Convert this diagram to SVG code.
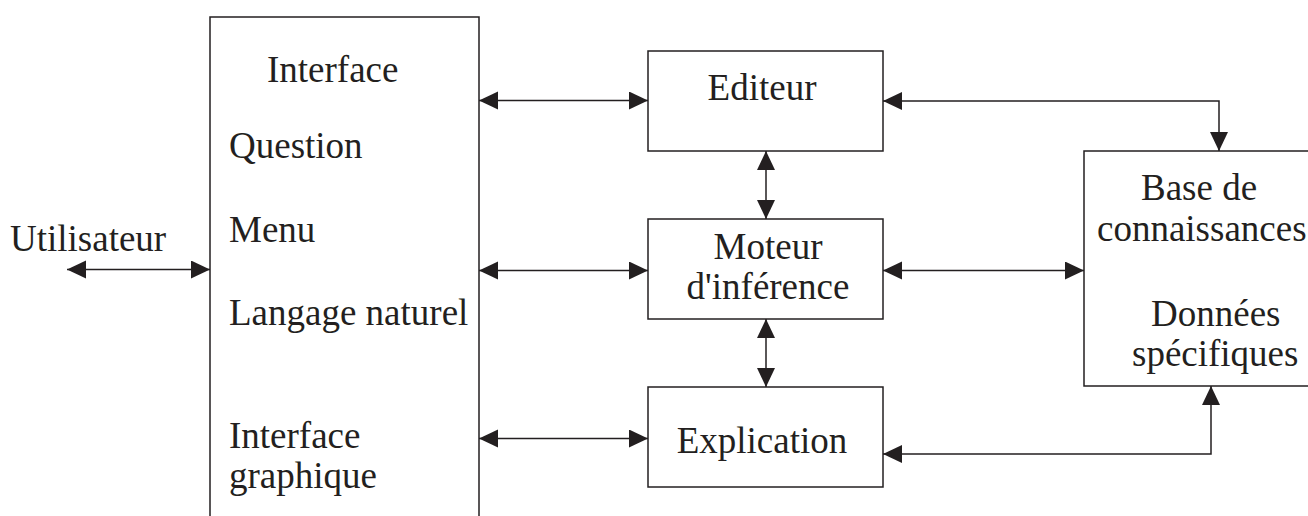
<svg xmlns="http://www.w3.org/2000/svg" width="1308" height="516" viewBox="0 0 1308 516">
<style>
.box{fill:none;stroke:#231f20;stroke-width:1.5}
.con{fill:none;stroke:#231f20;stroke-width:1.5;marker-start:url(#ah);marker-end:url(#ah)}
text{font-family:"Liberation Serif","Times New Roman",serif;font-size:37px;fill:#231f20}
.c{text-anchor:middle}
</style>
<defs>
<marker id="ah" markerUnits="userSpaceOnUse" markerWidth="20" markerHeight="19" refX="19" refY="9" orient="auto-start-reverse" viewBox="0 0 20 19">
<path d="M0,0 L19,9 L0,18 z" fill="#231f20"/>
</marker>
</defs>
<rect width="1308" height="516" fill="#fff"/>
<g id="utilisateur"><text x="10" y="251">Utilisateur</text></g>
<g id="interface">
<path class="box" d="M210,517 V17 H479 V517"/>
<text x="267" y="82">Interface</text>
<text x="229" y="158">Question</text>
<text x="229" y="242">Menu</text>
<text x="229" y="325">Langage naturel</text>
<text x="229" y="448">Interface</text>
<text x="229" y="488">graphique</text>
</g>
<g id="editeur">
<rect class="box" x="648" y="51" width="235" height="100"/>
<text class="c" x="762" y="100">Editeur</text>
</g>
<g id="moteur">
<rect class="box" x="648" y="219" width="235" height="100"/>
<text class="c" x="768" y="259">Moteur</text>
<text class="c" x="768" y="299">d'inférence</text>
</g>
<g id="explication">
<rect class="box" x="648" y="387" width="235" height="100"/>
<text class="c" x="762" y="453">Explication</text>
</g>
<g id="base">
<path class="box" d="M1310,151 H1084 V386 H1310"/>
<text x="1141" y="200">Base de</text>
<text x="1097" y="241">connaissances</text>
<text x="1151" y="326">Données</text>
<text x="1132" y="366">spécifiques</text>
</g>
<g id="connectors">
<path class="con" d="M67,269.5 H210"/>
<path class="con" d="M479,100.5 H648"/>
<path class="con" d="M479,270.5 H648"/>
<path class="con" d="M479,438.5 H648"/>
<path class="con" d="M766,151 V219"/>
<path class="con" d="M766,319 V387"/>
<path class="con" d="M883,270.5 H1084"/>
<path class="con" d="M883,101 H1219 V151"/>
<path class="con" d="M883,454 H1211 V386"/>
</g>
</svg>
